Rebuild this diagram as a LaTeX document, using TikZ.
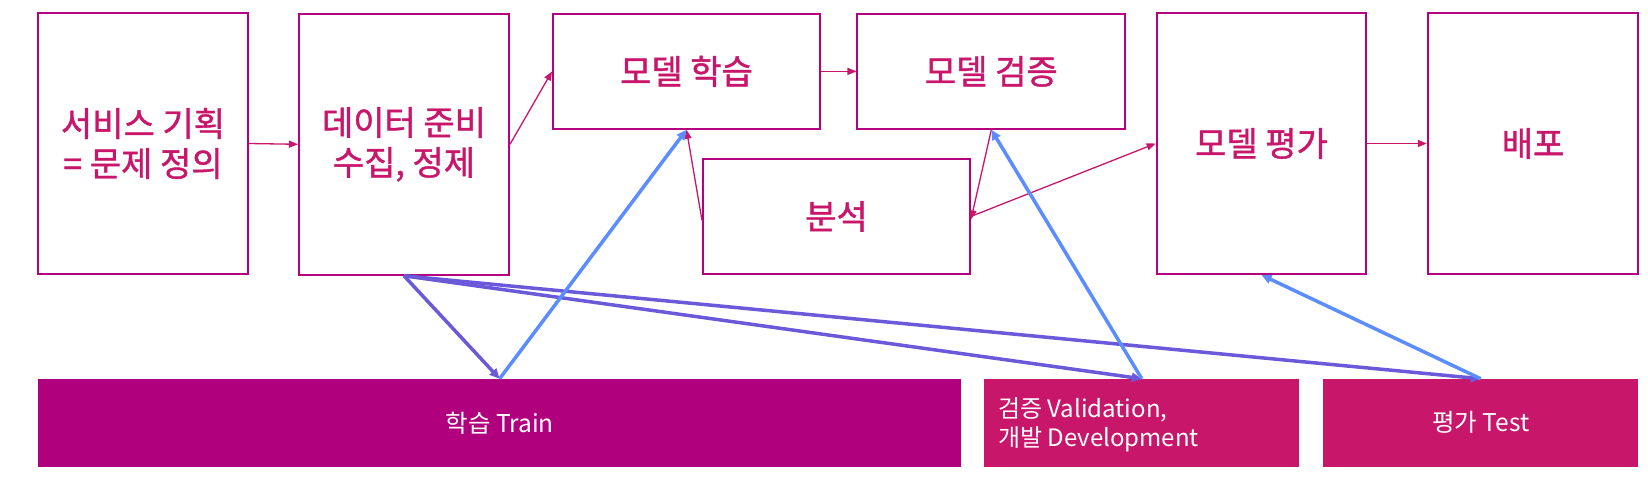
\documentclass[tikz,border=0pt]{standalone}
\usepackage{fontspec}
\setmainfont{Noto Sans CJK KR}
\newfontfamily\krmed[FakeBold=1.2]{Noto Sans CJK KR}
\usetikzlibrary{arrows.meta}
\definecolor{boxline}{HTML}{B5007F}
\definecolor{txt}{HTML}{C8166B}
\definecolor{barA}{HTML}{B0007E}
\definecolor{barB}{HTML}{C8166B}
\definecolor{bluea}{HTML}{5B8DFE}
\definecolor{purp}{HTML}{6A5AD9}
\tikzset{
  topbox/.style={draw=boxline, line width=2pt, fill=white, inner sep=0pt, text=txt,
    font=\krmed\fontsize{34}{40}\selectfont, align=center},
  bar/.style={inner sep=0pt, text=white, font=\fontsize{24.5}{29}\selectfont, minimum height=87.7pt},
  thin/.style={draw=txt, line width=1.3pt, -{Triangle[length=9pt,width=7pt]}},
  bluearr/.style={draw=bluea, line width=3.5pt, -{Triangle[length=10pt,width=9pt]}},
  purparr/.style={draw=purp, line width=3.5pt, -{Triangle[length=10pt,width=9pt]}}
}
\begin{document}
\begin{tikzpicture}[x=1pt,y=-1pt]
\useasboundingbox (0,0) rectangle (1648,479);
\node[topbox, minimum width=210pt, minimum height=261pt] (plan) at (143,143.5) {서비스 기획\\= 문제 정의};
\node[topbox, minimum width=210pt, minimum height=261pt] (data) at (404,144.3) {데이터 준비\\수집, 정제};
\node[topbox, minimum width=267pt, minimum height=114.7pt] (train) at (686.5,71.4) {모델 학습};
\node[topbox, minimum width=267.7pt, minimum height=114.7pt] (valid) at (991.3,71.4) {모델 검증};
\node[topbox, minimum width=267pt, minimum height=114.7pt] (anal) at (836.5,216.4) {분석};
\node[topbox, minimum width=209.7pt, minimum height=261pt] (eval) at (1261.5,143.5) {모델 평가};
\node[topbox, minimum width=210.4pt, minimum height=261pt] (deploy) at (1533,143.5) {배포};

\node[bar, fill=barA, minimum width=922.8pt] (btrain) at (499.6,422.8) {학습 Train};
\node[bar, fill=barB, minimum width=315.2pt] (bvalid) at (1141.8,422.8) {};
\node[anchor=west, inner sep=0pt, text=white, font=\fontsize{24}{29}\selectfont, align=left] (bvalidtxt) at (998,424.5) {검증 Validation,\\개발 Development};
\node[bar, fill=barB, minimum width=315.4pt] (btest) at (1480.7,422.8) {평가 Test};

\draw[thin] (plan.east) -- (data.west);
\draw[thin] (data.east) -- (train.west);
\draw[thin] (train.east) -- (valid.west);
\draw[thin] ([yshift=-4pt]anal.west) -- (train.south);
\draw[thin] (valid.south) -- ([yshift=-3pt]anal.east);
\draw[thin] (anal.east) -- (eval.west);
\draw[thin] (eval.east) -- (deploy.west);

\draw[purparr] (data.south) -- (btrain.north);
\draw[purparr] (data.south) -- (bvalid.north);
\draw[purparr] (data.south) -- (btest.north);
\draw[bluearr] (btrain.north) -- (train.south);
\draw[bluearr] (bvalid.north) -- (valid.south);
\draw[bluearr] (btest.north) -- (eval.south);
\end{tikzpicture}
\end{document}
